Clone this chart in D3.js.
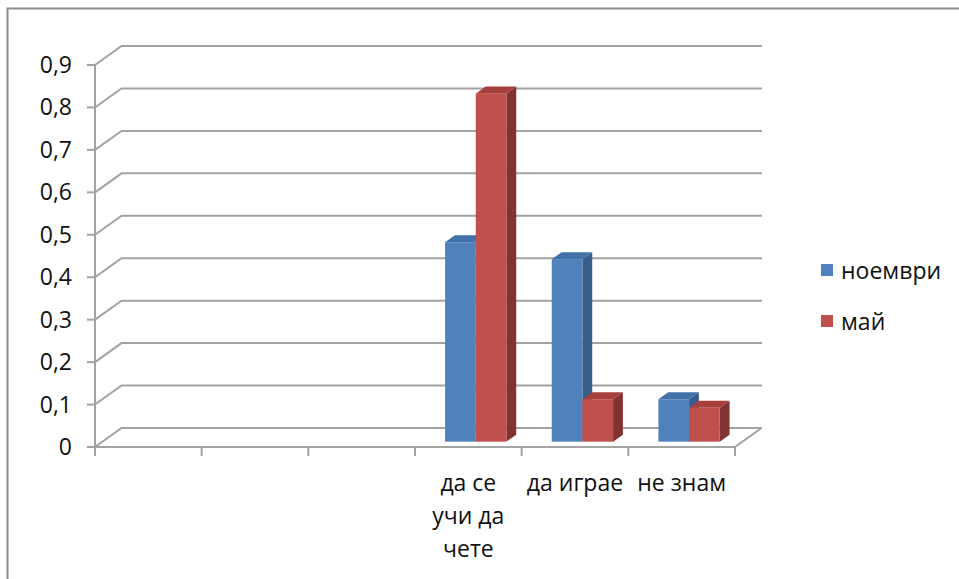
<!DOCTYPE html>
<html>
<head>
<meta charset="utf-8">
<script src="https://cdn.jsdelivr.net/npm/d3@7"></script>
<style>
  html, body { margin: 0; padding: 0; background: #fff; }
  svg { display: block; }
  text { font-family: "Open Sans", "DejaVu Sans", sans-serif; fill: #111; }
</style>
</head>
<body>
<svg id="chart" width="959" height="579"></svg>
<script>
// ---- data ----
const categories = ["", "", "", "да се\nучи да\nчете", "да играе", "не знам"];
const seriesNames = ["ноември", "май"];
const novemberValues = [null, null, null, 0.47, 0.43, 0.10];
const mayValues = [null, null, null, 0.82, 0.10, 0.08];
const yTicks = [0, 0.1, 0.2, 0.3, 0.4, 0.5, 0.6, 0.7, 0.8, 0.9];
const yTickLabels = ["0", "0,1", "0,2", "0,3", "0,4", "0,5", "0,6", "0,7", "0,8", "0,9"];

const seriesValues = [novemberValues, mayValues];
const colors = [
  { front: "#4f81bd", side: "#385d8a", top: "#4270a8" },
  { front: "#c0504d", side: "#823331", top: "#a7403d" }
];
const FS = 23;

const svg = d3.select("#chart");

// frame
svg.append("rect").attr("x", 7.5).attr("y", 8.5).attr("width", 1000).attr("height", 700)
  .attr("fill", "none").attr("stroke", "#8c8c8c").attr("stroke-width", 2);

const x = d3.scaleBand().domain(d3.range(categories.length)).range([95, 735]);
const y = d3.scaleLinear().domain([0, 0.9]).range([447, 65]);
const DX = 26.5, DY = -19;          // floor depth vector
const backRight = 762;
const gridColor = "#a3a3a3";

// gridlines (back wall + left wall diagonals)
const grid = svg.append("g");
yTicks.forEach(t => {
  const yy = y(t);
  grid.append("path")
    .attr("d", `M${x.range()[0]},${yy}L${x.range()[0] + DX},${yy + DY}L${backRight},${yy + DY}`)
    .attr("fill", "none").attr("stroke", gridColor).attr("stroke-width", 2);
});
// floor front and right edges
grid.append("path")
  .attr("d", `M${x.range()[0]},${y(0)}L${x.range()[1]},${y(0)}L${x.range()[1] + DX},${y(0) + DY}`)
  .attr("fill", "none").attr("stroke", gridColor).attr("stroke-width", 2);

// y axis
const axisG = svg.append("g");
axisG.append("line").attr("x1", 95).attr("x2", 95).attr("y1", y(0.9)).attr("y2", y(0) + 1)
  .attr("stroke", gridColor).attr("stroke-width", 2);
yTicks.forEach((t, i) => {
  axisG.append("line").attr("x1", 87).attr("x2", 95).attr("y1", y(t)).attr("y2", y(t))
    .attr("stroke", gridColor).attr("stroke-width", 2);
  axisG.append("text").attr("x", 72).attr("y", y(t) + 8)
    .attr("text-anchor", "end").attr("font-size", FS).text(yTickLabels[i]);
});
// x axis ticks
d3.range(categories.length + 1).forEach(i => {
  const xx = i < categories.length ? x(i) : x.range()[1];
  axisG.append("line").attr("x1", xx).attr("x2", xx).attr("y1", y(0)).attr("y2", y(0) + 9)
    .attr("stroke", gridColor).attr("stroke-width", 2);
});

// bars
const fa = 0.28, fb = 0.65;
const bw = x.bandwidth() * 0.2875;
const gap = (x.bandwidth() - 2 * bw) / 2;
const ddx = (fb - fa) * DX, ddy = (fb - fa) * DY;
const barsG = svg.append("g");
categories.forEach((c, ci) => {
  seriesValues.forEach((vals, si) => {
    const v = vals[ci];
    if (v == null) return;
    const x0 = x(ci) + gap + si * bw + fa * DX;
    const x1 = x0 + bw;
    const base = y(0) + fa * DY;
    const top = y(v) + fa * DY;
    const col = colors[si];
    barsG.append("polygon")
      .attr("points", [[x1, top], [x1 + ddx, top + ddy], [x1 + ddx, base + ddy], [x1, base]].join(" "))
      .attr("fill", col.side);
    barsG.append("polygon")
      .attr("points", [[x0, top], [x1, top], [x1 + ddx, top + ddy], [x0 + ddx, top + ddy]].join(" "))
      .attr("fill", col.top);
    barsG.append("rect").attr("x", x0).attr("y", top).attr("width", bw).attr("height", base - top)
      .attr("fill", col.front);
  });
});

// category labels (explicit line breaks)
const labG = svg.append("g");
categories.forEach((c, ci) => {
  if (!c) return;
  const cx = x(ci) + x.bandwidth() / 2;
  const t = labG.append("text").attr("x", cx).attr("y", 491).attr("text-anchor", "middle").attr("font-size", FS);
  c.split("\n").forEach((ln, li) => {
    t.append("tspan").attr("x", cx).attr("y", 491 + li * 33).text(ln);
  });
});

// legend
const legG = svg.append("g");
seriesNames.forEach((n, i) => {
  const ly = 264 + i * 51;
  legG.append("rect").attr("x", 821).attr("y", ly).attr("width", 12).attr("height", 12).attr("fill", colors[i].front);
  legG.append("text").attr("x", 841).attr("y", ly + 15).attr("font-size", FS).text(n);
});
</script>
</body>
</html>
